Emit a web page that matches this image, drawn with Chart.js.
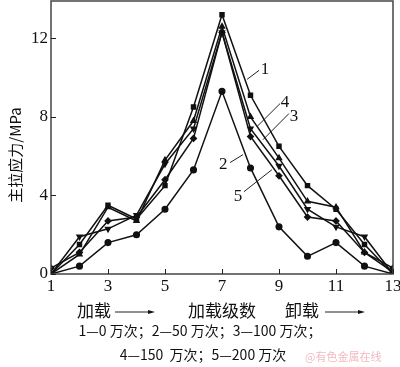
<!DOCTYPE html>
<html>
<head>
<meta charset="utf-8">
<script src="https://cdn.jsdelivr.net/npm/chart.js@4.4.0/dist/chart.umd.min.js"></script>
<style>
  html, body { margin: 0; padding: 0; background: #fff; }
  #wrap { width: 400px; height: 367px; position: relative; }
</style>
</head>
<body>
<div id="wrap"><canvas id="chart" width="400" height="367"></canvas></div>
<script>
// loading stages
const stages = [1, 2, 3, 4, 5, 6, 7, 8, 9, 10, 11, 12, 13];

// principal tensile stress, MPa
const s1 = [0, 1.5, 3.5, 2.8, 4.5, 8.5, 13.2, 9.1, 6.5, 4.5, 3.3, 1.5, 0];
const s2 = [0, 1.0, 3.4, 2.7, 5.8, 7.8, 12.6, 8.0, 5.9, 3.7, 3.4, 1.1, 0.1];
const s3 = [0, 1.9, 2.3, 3.0, 5.6, 7.4, 12.3, 7.4, 5.5, 3.3, 2.4, 1.9, 0];
const s4 = [0.3, 1.1, 2.7, 2.9, 4.8, 6.9, 12.3, 7.0, 5.0, 2.9, 2.7, 1.1, 0.3];
const s5 = [0, 0.4, 1.6, 2.0, 3.3, 5.3, 9.3, 5.4, 2.4, 0.9, 1.6, 0.4, 0];

const xTicks = [1, 3, 5, 7, 9, 11, 13];
const yTicks = [0, 4, 8, 12];

// curve labels: text position and leader line, in data units
const curveLabels = [
    { text: '1', x: 8.51, y: 10.42, from: [7.88, 9.91], to: [8.30, 10.37] },
    { text: '4', x: 9.21, y: 8.73, from: [8.23, 7.51], to: [9.04, 8.68] },
    { text: '3', x: 9.53, y: 8.02, from: [8.44, 6.84], to: [9.35, 8.17] },
    { text: '2', x: 7.04, y: 5.57, from: [7.28, 5.67], to: [7.74, 6.08] },
    { text: '5', x: 7.56, y: 3.93, from: [7.77, 4.19], to: [8.75, 5.31] }
];

const SERIF = '"Liberation Serif", "Noto Sans CJK SC", serif';
const CJK = '"Noto Sans CJK SC", "Liberation Serif", serif';

function toPoints(vals) {
    return stages.map((s, i) => ({ x: s, y: vals[i] }));
}

function series(vals, style, rot) {
    return {
        data: toPoints(vals),
        borderColor: '#111',
        backgroundColor: '#111',
        borderWidth: 1.5,
        pointStyle: style,
        pointRotation: rot || 0,
        pointRadius: 2.8,
        tension: 0
    };
}

const decorPlugin = {
    id: 'decor',
    afterDraw(chart) {
        const ctx = chart.ctx;
        const a = chart.chartArea;
        const xs = chart.scales.x;
        const ys = chart.scales.y;
        ctx.save();

        // frame
        ctx.strokeStyle = '#444';
        ctx.lineWidth = 1.5;
        ctx.strokeRect(a.left, a.top, a.right - a.left, a.bottom - a.top);

        // inward ticks
        ctx.strokeStyle = '#222';
        ctx.lineWidth = 1;
        xTicks.forEach(v => {
            const px = Math.round(xs.getPixelForValue(v)) + 0.5;
            ctx.beginPath();
            ctx.moveTo(px, a.bottom);
            ctx.lineTo(px, a.bottom - 5);
            ctx.stroke();
        });
        yTicks.forEach(v => {
            const py = Math.round(ys.getPixelForValue(v)) + 0.5;
            ctx.beginPath();
            ctx.moveTo(a.left, py);
            ctx.lineTo(a.left + 5, py);
            ctx.stroke();
        });

        // curve labels
        ctx.fillStyle = '#111';
        ctx.font = '17px ' + SERIF;
        ctx.textAlign = 'center';
        ctx.textBaseline = 'middle';
        curveLabels.forEach(l => {
            ctx.beginPath();
            ctx.moveTo(xs.getPixelForValue(l.from[0]), ys.getPixelForValue(l.from[1]));
            ctx.lineTo(xs.getPixelForValue(l.to[0]), ys.getPixelForValue(l.to[1]));
            ctx.stroke();
            ctx.fillText(l.text, xs.getPixelForValue(l.x), ys.getPixelForValue(l.y));
        });

        // y axis title
        ctx.save();
        ctx.translate(15, 155);
        ctx.rotate(-Math.PI / 2);
        ctx.font = '15px ' + CJK;
        ctx.fillText('主拉应力/MPa', 0, 0);
        ctx.restore();

        // axis caption with arrows
        ctx.font = '17px ' + CJK;
        ctx.textAlign = 'left';
        ctx.fillText('加载', 77, 311);
        ctx.fillText('加载级数', 188, 311);
        ctx.fillText('卸载', 285, 311);
        [[115, 155], [325, 365]].forEach(([x0, x1]) => {
            ctx.beginPath();
            ctx.moveTo(x0, 312);
            ctx.lineTo(x1 - 5, 312);
            ctx.stroke();
            ctx.beginPath();
            ctx.moveTo(x1, 312);
            ctx.lineTo(x1 - 7, 310);
            ctx.lineTo(x1 - 7, 314);
            ctx.closePath();
            ctx.fill();
        });

        // legend text
        ctx.font = '14px ' + CJK;
        ctx.textAlign = 'center';
        ctx.fillText('1—0 万次；2—50 万次；3—100 万次；', 200, 331);
        ctx.fillText('4—150  万次；5—200 万次', 203, 355);

        // watermark
        ctx.fillStyle = '#f2b9c2';
        ctx.font = '11px ' + CJK;
        ctx.textAlign = 'left';
        ctx.fillText('@有色金属在线', 305, 357);

        ctx.restore();
    }
};

new Chart(document.getElementById('chart'), {
    type: 'line',
    data: {
        datasets: [
            series(s1, 'rect'),
            series(s2, 'triangle'),
            series(s3, 'triangle', 180),
            series(s4, 'rectRot'),
            series(s5, 'circle')
        ]
    },
    options: {
        responsive: false,
        animation: false,
        layout: { autoPadding: false, padding: { top: 1, right: 7, left: 0, bottom: 0 } },
        plugins: {
            legend: { display: false },
            tooltip: { enabled: false }
        },
        scales: {
            x: {
                type: 'linear',
                min: 1,
                max: 13,
                afterBuildTicks: s => { s.ticks = xTicks.map(v => ({ value: v })); },
                afterFit: s => {
                    s.height = 93;
                    s.paddingLeft = 0;
                    s.paddingRight = 0;
                },
                grid: { display: false, drawTicks: false },
                border: { display: false },
                ticks: {
                    color: '#111',
                    padding: 2,
                    maxRotation: 0,
                    font: { family: SERIF, size: 17 }
                }
            },
            y: {
                min: 0,
                max: 13.9,
                afterBuildTicks: s => { s.ticks = yTicks.map(v => ({ value: v })); },
                afterFit: s => {
                    s.width = 51;
                    s.paddingTop = 0;
                    s.paddingBottom = 0;
                },
                grid: { display: false, drawTicks: false },
                border: { display: false },
                ticks: {
                    color: '#111',
                    padding: 3,
                    font: { family: SERIF, size: 17 }
                }
            }
        }
    },
    plugins: [decorPlugin]
});
</script>
</body>
</html>
